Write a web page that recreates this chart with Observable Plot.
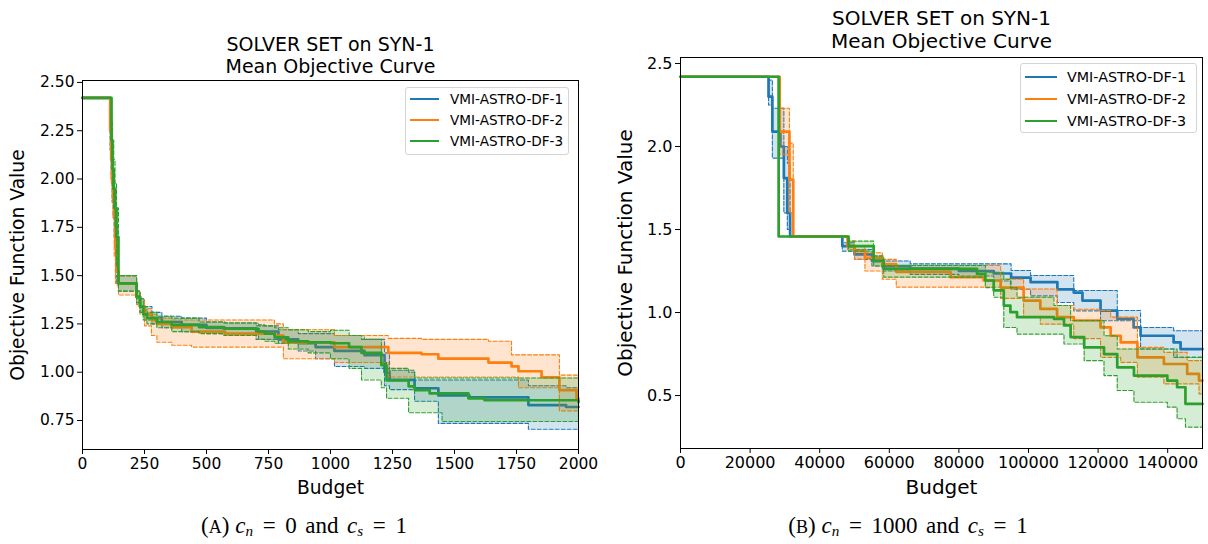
<!DOCTYPE html>
<html><head><meta charset="utf-8">
<script src="https://cdn.jsdelivr.net/npm/d3@7"></script>
<script src="https://cdn.jsdelivr.net/npm/@observablehq/plot@0.6"></script>
<style>
body{margin:0;background:#fff;}
#fig{position:relative;width:1208px;height:544px;overflow:hidden;font-family:"DejaVu Sans",sans-serif;background:#fff;}
.panel{position:absolute;top:0;}
.legend{position:absolute;border:1px solid #d4d4d4;border-radius:3px;background:rgba(255,255,255,0.85);box-sizing:border-box;}
.row{position:absolute;left:0;height:0;display:flex;align-items:center;white-space:nowrap;color:#000;}
.sw{display:inline-block;height:2.6px;}
.cap{position:absolute;top:514px;line-height:24px;font-family:"Liberation Serif","DejaVu Serif",serif;font-size:23px;white-space:nowrap;transform:translateX(-50%);color:#000;}
.cap sub{font-size:0.66em;vertical-align:-0.2em;line-height:0;font-style:italic;}
.cap .eq{margin:0 0.42em;}
.cap .sc{font-size:0.78em;}
.cap .w{margin:0 0.12em;}
</style></head>
<body><div id="fig"></div>
<script>
// ---------- shared ----------
const solvers = ["VMI-ASTRO-DF-1", "VMI-ASTRO-DF-2", "VMI-ASTRO-DF-3"];
const colors = ["#1f77b4", "#ff7f0e", "#2ca02c"];
const titleLine1 = "SOLVER SET on SYN-1";
const titleLine2 = "Mean Objective Curve";
const xLabel = "Budget";
const yLabel = "Objective Function Value";

// ---------- Panel A (c_n = 0, c_s = 1) ----------
const A_xTicks = [0, 250, 500, 750, 1000, 1250, 1500, 1750, 2000];
const A_yTicks = [0.75, 1.00, 1.25, 1.50, 1.75, 2.00, 2.25, 2.50];

const A1_budget = [0, 112, 116, 120, 124, 128, 133, 138, 145, 218, 232, 250, 280, 320, 400, 500, 575, 700, 790, 870, 940, 1016, 1137, 1218, 1238, 1339, 1435, 1560, 1798, 1950, 2000];
const A1_mean   = [2.42, 2.25, 2.10, 1.98, 1.90, 1.80, 1.65, 1.52, 1.46, 1.39, 1.34, 1.30, 1.28, 1.26, 1.245, 1.23, 1.227, 1.21, 1.17, 1.15, 1.13, 1.11, 1.088, 1.0, 0.96, 0.917, 0.88, 0.87, 0.83, 0.82, 0.82];
const A1_hi     = [2.42, 2.35, 2.20, 2.10, 2.00, 1.90, 1.85, 1.75, 1.50, 1.42, 1.38, 1.34, 1.31, 1.29, 1.28, 1.26, 1.255, 1.24, 1.22, 1.20, 1.20, 1.19, 1.17, 1.10, 1.01, 0.96, 0.96, 0.96, 0.93, 0.92, 0.92];
const A1_lo     = [2.42, 2.15, 2.00, 1.88, 1.80, 1.70, 1.50, 1.46, 1.42, 1.36, 1.31, 1.27, 1.25, 1.23, 1.21, 1.20, 1.19, 1.17, 1.15, 1.11, 1.07, 1.03, 1.02, 0.93, 0.91, 0.85, 0.735, 0.735, 0.705, 0.705, 0.705];

const A2_budget = [0, 112, 116, 120, 124, 128, 133, 138, 145, 218, 232, 250, 278, 300, 360, 440, 575, 774, 810, 1016, 1233, 1367, 1435, 1637, 1730, 1758, 1851, 1923, 1992, 2000];
const A2_mean   = [2.42, 2.25, 2.10, 1.98, 1.90, 1.80, 1.65, 1.52, 1.46, 1.39, 1.34, 1.30, 1.27, 1.25, 1.233, 1.21, 1.20, 1.19, 1.155, 1.13, 1.10, 1.093, 1.07, 1.05, 1.03, 1.005, 0.974, 0.907, 0.865, 0.865];
const A2_hi     = [2.42, 2.35, 2.20, 2.10, 2.00, 1.90, 1.85, 1.70, 1.50, 1.42, 1.37, 1.33, 1.30, 1.28, 1.27, 1.27, 1.27, 1.25, 1.22, 1.19, 1.175, 1.17, 1.17, 1.16, 1.09, 1.09, 1.09, 0.985, 0.985, 0.985];
const A2_lo     = [2.42, 2.15, 2.00, 1.88, 1.80, 1.60, 1.46, 1.45, 1.40, 1.35, 1.30, 1.24, 1.19, 1.155, 1.14, 1.13, 1.13, 1.13, 1.07, 1.05, 0.975, 0.975, 0.975, 0.975, 0.975, 0.92, 0.92, 0.80, 0.80, 0.80];

const A3_budget = [0, 117, 121, 126, 131, 137, 145, 218, 232, 245, 260, 300, 360, 470, 570, 710, 735, 775, 830, 910, 1000, 1075, 1125, 1205, 1226, 1315, 1340, 1400, 1450, 1556, 1621, 2000];
const A3_mean   = [2.42, 2.20, 2.05, 1.95, 1.85, 1.70, 1.46, 1.39, 1.34, 1.30, 1.28, 1.26, 1.245, 1.233, 1.225, 1.21, 1.20, 1.18, 1.16, 1.155, 1.15, 1.13, 1.10, 1.036, 0.958, 0.927, 0.907, 0.89, 0.89, 0.865, 0.855, 0.845];
const A3_hi     = [2.42, 2.30, 2.20, 2.10, 1.98, 1.85, 1.50, 1.42, 1.38, 1.34, 1.31, 1.29, 1.28, 1.26, 1.255, 1.245, 1.24, 1.23, 1.22, 1.21, 1.217, 1.19, 1.17, 1.05, 1.02, 1.0, 0.97, 0.97, 0.97, 0.97, 0.97, 0.97];
const A3_lo     = [2.42, 2.10, 1.95, 1.85, 1.75, 1.55, 1.42, 1.36, 1.31, 1.27, 1.25, 1.23, 1.21, 1.20, 1.19, 1.17, 1.16, 1.15, 1.12, 1.10, 1.07, 1.02, 0.96, 0.92, 0.865, 0.79, 0.79, 0.79, 0.745, 0.745, 0.745, 0.745];

// ---------- Panel B (c_n = 1000, c_s = 1) ----------
const B_xTicks = [0, 20000, 40000, 60000, 80000, 100000, 120000, 140000];
const B_yTicks = [0.5, 1.0, 1.5, 2.0, 2.5];

const B1_budget = [0, 25300, 26400, 28700, 29700, 30700, 31500, 45500, 46500, 50000, 55000, 58000, 66000, 80000, 90000, 95000, 100600, 108300, 113000, 115500, 120700, 125500, 130200, 132200, 141700, 143700, 150000];
const B1_mean   = [2.42, 2.30, 2.09, 2.00, 1.81, 1.60, 1.458, 1.458, 1.40, 1.35, 1.31, 1.28, 1.265, 1.25, 1.235, 1.21, 1.183, 1.14, 1.12, 1.072, 1.012, 0.962, 0.91, 0.86, 0.82, 0.78, 0.78];
const B1_hi     = [2.42, 2.40, 2.23, 2.23, 2.00, 1.90, 1.458, 1.458, 1.42, 1.38, 1.34, 1.31, 1.293, 1.293, 1.293, 1.253, 1.223, 1.223, 1.133, 1.133, 1.133, 1.012, 1.012, 0.91, 0.89, 0.89, 0.89];
const B1_lo     = [2.42, 2.25, 1.93, 1.93, 1.60, 1.50, 1.458, 1.458, 1.37, 1.32, 1.28, 1.25, 1.23, 1.22, 1.19, 1.14, 1.10, 1.06, 1.01, 1.01, 0.95, 0.95, 0.95, 0.78, 0.73, 0.73, 0.73];

const B2_budget = [0, 28500, 31300, 32400, 48000, 50000, 53000, 58000, 62000, 77600, 87100, 92000, 98600, 103400, 108200, 113000, 120700, 123600, 126500, 131300, 138900, 145600, 149000, 150000];
const B2_mean   = [2.42, 2.09, 1.80, 1.458, 1.40, 1.37, 1.33, 1.29, 1.245, 1.213, 1.193, 1.15, 1.072, 1.022, 0.972, 0.952, 0.91, 0.86, 0.82, 0.73, 0.69, 0.63, 0.59, 0.59];
const B2_hi     = [2.42, 2.23, 2.02, 1.458, 1.43, 1.40, 1.36, 1.32, 1.283, 1.283, 1.283, 1.20, 1.142, 1.142, 1.042, 1.02, 1.012, 0.972, 0.972, 0.79, 0.76, 0.71, 0.71, 0.71];
const B2_lo     = [2.42, 1.95, 1.60, 1.458, 1.38, 1.32, 1.25, 1.20, 1.153, 1.153, 1.153, 1.085, 0.972, 0.93, 0.93, 0.843, 0.73, 0.73, 0.70, 0.61, 0.57, 0.57, 0.51, 0.51];

const B3_budget = [0, 28200, 48300, 55500, 58400, 85200, 87600, 90000, 92900, 94800, 96700, 107300, 110200, 112100, 116000, 121700, 125500, 130300, 139900, 142700, 145100, 150000];
const B3_mean   = [2.42, 1.458, 1.40, 1.313, 1.263, 1.233, 1.193, 1.133, 1.042, 1.002, 0.972, 0.962, 0.922, 0.852, 0.79, 0.75, 0.67, 0.62, 0.59, 0.55, 0.45, 0.45];
const B3_hi     = [2.42, 1.458, 1.43, 1.34, 1.283, 1.283, 1.243, 1.243, 1.20, 1.15, 1.092, 1.042, 1.042, 0.952, 0.952, 0.86, 0.78, 0.78, 0.78, 0.73, 0.73, 0.73];
const B3_lo     = [2.42, 1.458, 1.37, 1.28, 1.213, 1.213, 1.15, 1.092, 0.91, 0.91, 0.87, 0.87, 0.81, 0.81, 0.71, 0.62, 0.53, 0.46, 0.43, 0.36, 0.31, 0.31];

// ---------- build ----------
function rows(b, m, lo, hi) {
  return b.map((x, i) => ({x, mean: m[i], lo: lo[i], hi: hi[i]}));
}

function panel(cfg) {
  const marks = [];
  cfg.series.forEach((s, i) => {
    const c = colors[i];
    marks.push(Plot.areaY(s, {x: "x", y1: "lo", y2: "hi", fill: c, fillOpacity: 0.2, curve: "step-after"}));
    marks.push(Plot.line(s, {x: "x", y: "lo", stroke: c, strokeWidth: 1.1, strokeDasharray: "4,2", curve: "step-after"}));
    marks.push(Plot.line(s, {x: "x", y: "hi", stroke: c, strokeWidth: 1.1, strokeDasharray: "4,2", curve: "step-after"}));
    marks.push(Plot.line(s, {x: "x", y: "mean", stroke: c, strokeWidth: 2.7, curve: "step-after"}));
  });
  marks.push(Plot.frame({stroke: "black", strokeWidth: 1}));
  marks.push(Plot.axisX({ticks: cfg.xTicks, tickFormat: d3.format("d"), tickSize: 5, tickPadding: 3, fontSize: cfg.tickFont, label: null}));
  marks.push(Plot.axisY({ticks: cfg.yTicks, tickFormat: d3.format(cfg.yFmt), tickSize: 5, tickPadding: 3, fontSize: cfg.tickFont, label: null}));
  marks.push(Plot.text([titleLine1], {text: d => d, frameAnchor: "top", dy: cfg.t1, lineAnchor: "middle", textAnchor: "middle", fontSize: cfg.titleFont, fill: "black"}));
  marks.push(Plot.text([titleLine2], {text: d => d, frameAnchor: "top", dy: cfg.t2, lineAnchor: "middle", textAnchor: "middle", fontSize: cfg.titleFont, fill: "black"}));
  marks.push(Plot.text([xLabel], {text: d => d, frameAnchor: "bottom", dy: cfg.xl, lineAnchor: "middle", textAnchor: "middle", fontSize: cfg.labelFont, fill: "black"}));
  marks.push(Plot.text([yLabel], {text: d => d, frameAnchor: "left", dx: cfg.yl, rotate: -90, lineAnchor: "middle", textAnchor: "middle", fontSize: cfg.labelFont, fill: "black"}));
  return Plot.plot({
    width: cfg.width, height: cfg.height,
    marginLeft: cfg.ml, marginRight: cfg.mr, marginTop: cfg.mt, marginBottom: cfg.mb,
    x: {domain: cfg.xDomain},
    y: {domain: cfg.yDomain},
    style: {fontFamily: "DejaVu Sans", background: "white", color: "black", overflow: "visible"},
    marks
  });
}

function legend(parent, left, top, w, h, rowYs, font, swX, swW, textX) {
  const box = document.createElement("div");
  box.className = "legend";
  Object.assign(box.style, {left: left + "px", top: top + "px", width: w + "px", height: h + "px"});
  solvers.forEach((name, i) => {
    const r = document.createElement("div");
    r.className = "row";
    r.style.top = (rowYs[i] - top - 1) + "px";
    r.style.left = (swX - left - 1) + "px";
    r.style.fontSize = font + "px";
    const sw = document.createElement("span");
    sw.className = "sw";
    sw.style.width = swW + "px";
    sw.style.background = colors[i];
    const t = document.createElement("span");
    t.textContent = name;
    t.style.marginLeft = (textX - swX - swW) + "px";
    r.appendChild(sw); r.appendChild(t);
    box.appendChild(r);
  });
  parent.appendChild(box);
}

const fig = document.getElementById("fig");

const plotA = panel({
  width: 600, height: 500, ml: 82, mr: 22, mt: 80, mb: 51,
  xDomain: [0, 2000], yDomain: [0.600, 2.510],
  xTicks: A_xTicks, yTicks: A_yTicks, yFmt: ".2f",
  tickFont: 15.5, titleFont: 19, labelFont: 18.7,
  t1: -36, t2: -14, xl: 39, yl: -64,
  series: [rows(A1_budget, A1_mean, A1_lo, A1_hi), rows(A2_budget, A2_mean, A2_lo, A2_hi), rows(A3_budget, A3_mean, A3_lo, A3_hi)]
});
plotA.classList.add("panel");
plotA.style.left = "0px";
fig.appendChild(plotA);

const plotB = panel({
  width: 608, height: 500, ml: 80, mr: 6, mt: 57, mb: 52,
  xDomain: [0, 150000], yDomain: [0.181, 2.536],
  xTicks: B_xTicks, yTicks: B_yTicks, yFmt: ".1f",
  tickFont: 16, titleFont: 20, labelFont: 20,
  t1: -39, t2: -16, xl: 39, yl: -55,
  series: [rows(B1_budget, B1_mean, B1_lo, B1_hi), rows(B2_budget, B2_mean, B2_lo, B2_hi), rows(B3_budget, B3_mean, B3_lo, B3_hi)]
});
plotB.classList.add("panel");
plotB.style.left = "600px";
fig.appendChild(plotB);

legend(fig, 405, 87, 164, 68, [99, 120, 141], 13.6, 410, 29, 450);
legend(fig, 1020, 63, 177, 70, [77, 99, 121], 14.3, 1025, 32, 1067);

// captions
const capA = document.createElement("div");
capA.className = "cap"; capA.style.left = "304px";
capA.innerHTML = '(<span class="sc">A</span>) <i>c</i><sub>n</sub><span class="eq">=</span>0 <span class="w">and</span> <i>c</i><sub>s</sub><span class="eq">=</span>1';
fig.appendChild(capA);
const capB = document.createElement("div");
capB.className = "cap"; capB.style.left = "908px";
capB.innerHTML = '(<span class="sc">B</span>) <i>c</i><sub>n</sub><span class="eq">=</span>1000 <span class="w">and</span> <i>c</i><sub>s</sub><span class="eq">=</span>1';
fig.appendChild(capB);
</script></body></html>
